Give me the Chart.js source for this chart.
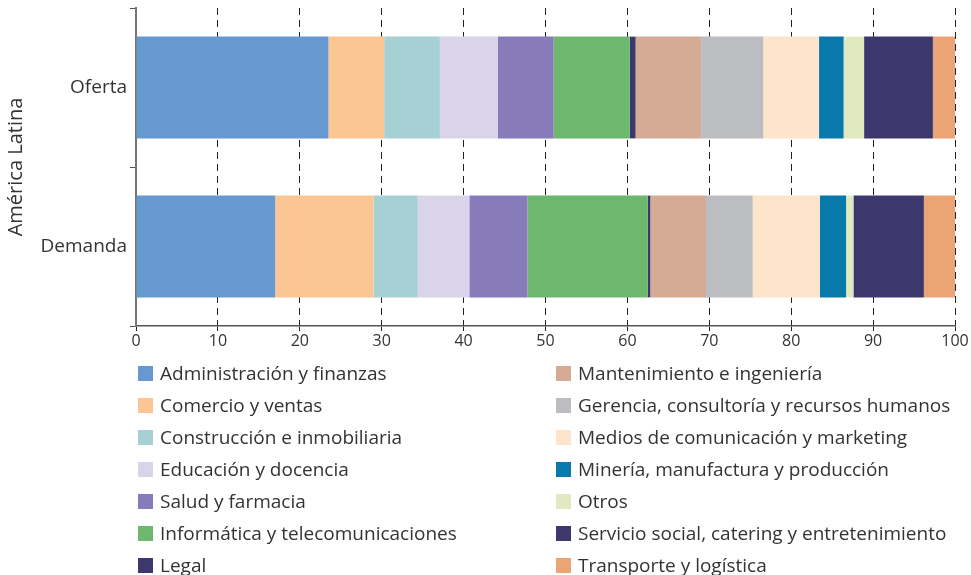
<!DOCTYPE html>
<html>
<head>
<meta charset="utf-8">
<script src="https://cdn.jsdelivr.net/npm/chart.js@4/dist/chart.umd.min.js"></script>
<style>
  body { margin: 0; background: #fff; width: 971px; height: 575px; overflow: hidden; position: relative; }
  #wrap { position: absolute; left: 0; top: 0; width: 971px; height: 360px; }
  #legend {
    position: absolute; left: 138px; top: 357px;
    display: grid; grid-auto-flow: column;
    grid-template-rows: repeat(7, 32px); grid-template-columns: 418px 400px;
    font-family: "Open Sans", sans-serif; font-size: 19px; color: #333;
  }
  .item { display: flex; align-items: center; white-space: nowrap; }
  .box { width: 15px; height: 15px; margin-right: 7px; flex: none; }
</style>
</head>
<body>
<div id="wrap"><canvas id="chart" width="971" height="360"></canvas></div>
<div id="legend"></div>
<script>
const categories = ["Oferta", "Demanda"];

const sectors = [
  "Administración y finanzas",
  "Comercio y ventas",
  "Construcción e inmobiliaria",
  "Educación y docencia",
  "Salud y farmacia",
  "Informática y telecomunicaciones",
  "Legal",
  "Mantenimiento e ingeniería",
  "Gerencia, consultoría y recursos humanos",
  "Medios de comunicación y marketing",
  "Minería, manufactura y producción",
  "Otros",
  "Servicio social, catering y entretenimiento",
  "Transporte y logística"
];

// porcentaje por sector, mismo orden que sectors
const oferta = [23.5, 6.8, 6.8, 7.1, 6.8, 9.3, 0.7, 8.0, 7.6, 6.8, 3.0, 2.5, 8.4, 2.7];
const demanda = [17.0, 12.0, 5.4, 6.3, 7.1, 14.7, 0.3, 6.8, 5.7, 8.2, 3.2, 0.9, 8.6, 3.8];

const xTicks = [0, 10, 20, 30, 40, 50, 60, 70, 80, 90, 100];

const colors = [
  "#6699d0", "#fbc694", "#a7d0d5", "#dad4ea", "#877bba", "#6eb76e", "#3c386e",
  "#d5ab96", "#bcbdc0", "#fde5cc", "#0979ab", "#e0e9c0", "#3c386e", "#eba574"
];

const datasets = sectors.map((name, i) => ({
  label: name,
  data: [oferta[i], demanda[i]],
  backgroundColor: colors[i],
  borderWidth: 0,
  barPercentage: 0.64,
  categoryPercentage: 1
}));

const chart = new Chart(document.getElementById("chart"), {
  type: "bar",
  data: { labels: categories, datasets: datasets },
  options: {
    indexAxis: "y",
    responsive: false,
    animation: false,
    layout: { padding: { top: 8, right: 16, left: 0, bottom: 0 } },
    plugins: { legend: { display: false }, tooltip: { enabled: false } },
    scales: {
      x: {
        stacked: true,
        min: 0,
        max: 100,
        afterBuildTicks: (s) => { s.ticks = xTicks.map(v => ({ value: v })); },
        afterFit: (s) => { s.height = 34; },
        grid: { color: "#222", lineWidth: 1, tickLength: 5 },
        border: { color: "#555", width: 1.5, dash: [7, 5] },
        ticks: { color: "#333", font: { family: "Open Sans", size: 16 }, padding: 1, maxRotation: 0 }
      },
      y: {
        stacked: true,
        afterFit: (s) => { s.width = 136; s.paddingTop = 0; s.paddingBottom = 0; },
        grid: { drawOnChartArea: false, color: "#555", tickLength: 6, offset: true },
        border: { color: "#777", width: 2 },
        ticks: { color: "#333", font: { family: "Open Sans", size: 19 }, padding: 3 },
        title: {
          display: true,
          text: "América Latina",
          color: "#333",
          font: { family: "Open Sans", size: 20 },
          padding: { top: 4, bottom: 0 }
        }
      }
    }
  }
});

// leyenda en dos columnas, construida desde los datasets
const legend = document.getElementById("legend");
chart.data.datasets.forEach((ds) => {
  const item = document.createElement("div");
  item.className = "item";
  const box = document.createElement("span");
  box.className = "box";
  box.style.background = ds.backgroundColor;
  item.appendChild(box);
  item.appendChild(document.createTextNode(ds.label));
  legend.appendChild(item);
});
</script>
</body>
</html>
